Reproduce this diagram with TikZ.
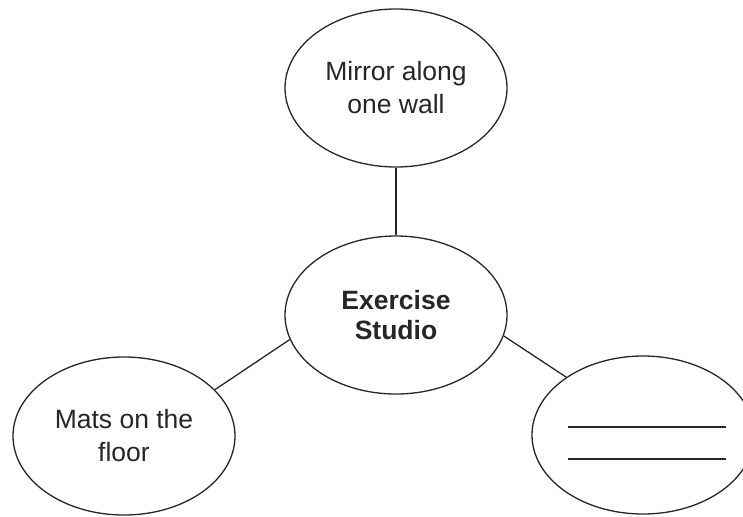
\documentclass[tikz,border=0pt]{standalone}
\usepackage{fontspec}
\setmainfont{Liberation Sans}
\usetikzlibrary{shapes.geometric}
\begin{document}
\begin{tikzpicture}[x=1pt,y=-1pt,
  bubble/.style={ellipse,draw=black!85,line width=1.3pt,inner sep=0pt,
    minimum width=222pt,minimum height=158pt,align=center,
    font=\fontsize{26.5}{33}\selectfont,text=black!85},
  link/.style={draw=black!85,line width=1.3pt},
  blank/.style={draw=black!85,line width=1.5pt}]
\useasboundingbox (0,0) rectangle (743,516);
\node[bubble] (top) at (396,88) {Mirror along\\one wall};
\node[bubble,font=\fontsize{26.5}{30}\selectfont\bfseries] (mid) at (396,315) {Exercise\\Studio};
\node[bubble] (left) at (124,436) {Mats on the\\floor};
\node[bubble] (right) at (643,435) {};
\draw[link] (top) -- (mid);
\draw[link] (mid.193) -- (left.27);
\draw[link] (mid.349) -- (right.143);
\draw[blank] (568,427) -- (726,427);
\draw[blank] (568,459) -- (726,459);
\end{tikzpicture}
\end{document}
